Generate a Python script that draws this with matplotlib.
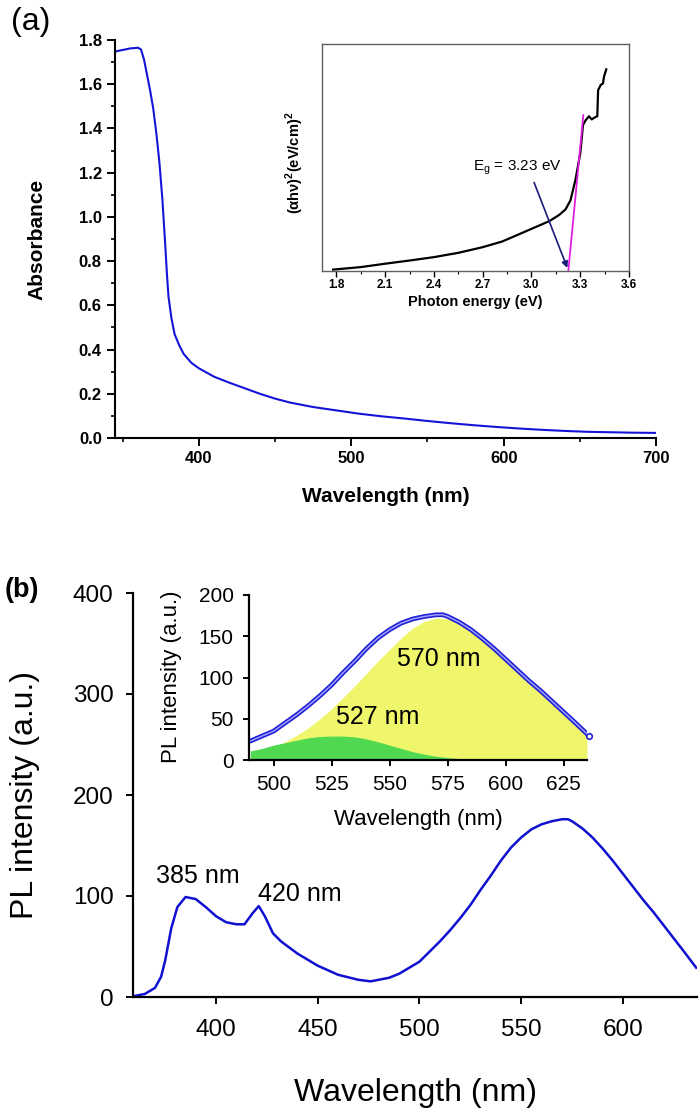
import matplotlib
matplotlib.use("Agg")
import matplotlib.pyplot as plt
from matplotlib.ticker import MultipleLocator

plt.rcParams['font.family'] = ['Liberation Sans', 'DejaVu Sans']
plt.rcParams['mathtext.fontset'] = 'custom'
plt.rcParams['mathtext.rm'] = 'Liberation Sans'
plt.rcParams['mathtext.bf'] = 'Liberation Sans:bold'

# (a) absorbance spectrum
abs_wl = [345, 350, 355, 360, 362, 364, 366, 368, 370, 372, 374, 376, 377, 378, 379, 380,
          382, 384, 387, 390, 395, 400, 410, 420, 430, 440, 450, 460, 475, 490, 505, 520,
          535, 550, 565, 580, 595, 610, 625, 640, 655, 670, 685, 700]
abs_val = [1.748, 1.755, 1.762, 1.765, 1.757, 1.71, 1.64, 1.57, 1.49, 1.38, 1.25, 1.08, 0.97,
           0.86, 0.74, 0.64, 0.54, 0.47, 0.42, 0.38, 0.34, 0.315, 0.277, 0.25, 0.225, 0.20,
           0.178, 0.16, 0.14, 0.125, 0.11, 0.098, 0.088, 0.077, 0.067, 0.058, 0.05, 0.043,
           0.037, 0.032, 0.028, 0.026, 0.024, 0.023]

# (a) inset: Tauc plot (arbitrary units)
tauc_e = [1.78, 1.95, 2.10, 2.25, 2.40, 2.55, 2.70, 2.82, 2.93, 3.02, 3.11, 3.17, 3.21, 3.24,
          3.27, 3.30, 3.317, 3.334, 3.354, 3.37, 3.39, 3.405, 3.41, 3.426, 3.44, 3.446, 3.46]
tauc_y = [0.004, 0.015, 0.03, 0.044, 0.059, 0.078, 0.103, 0.128, 0.162, 0.19, 0.218, 0.245,
          0.27, 0.31, 0.398, 0.516, 0.642, 0.664, 0.681, 0.667, 0.676, 0.681, 0.796, 0.819,
          0.826, 0.855, 0.888]
fit_e = [3.227, 3.319]
fit_y = [0.0, 0.686]
eg = 3.23

# (b) PL spectrum
pl_wl = [360, 365, 370, 373, 375, 378, 381, 385, 390, 395, 400, 405, 410, 414, 418, 421, 424,
         428, 432, 440, 450, 460, 470, 476, 485, 490, 495, 500, 505, 510, 515, 520, 525, 530,
         535, 540, 545, 550, 555, 560, 565, 570, 573, 575, 580, 585, 590, 595, 600, 605, 610,
         615, 620, 625, 630, 636]
pl_int = [1, 3, 9, 20, 36, 68, 89, 99, 97, 89, 80, 74, 72, 72, 83, 90, 80, 63, 55, 43, 31, 22,
          17, 15.5, 19, 23, 29, 35, 45, 55, 66, 78, 91, 106, 120, 135, 148, 158, 166, 171, 174,
          176, 176, 174, 167, 158, 147, 135, 122, 109, 96, 84, 71, 58, 45, 29]

# (b) inset: fitted components
comp_wl = [490, 495, 500, 505, 510, 515, 520, 525, 530, 535, 540, 545, 550, 555, 560, 565,
           570, 575, 580, 585, 590, 595, 600, 605, 610, 615, 620, 625, 630, 635]
comp_527 = [11, 14, 18, 21, 24, 27, 28.5, 29, 29, 28, 25.5, 22, 18, 14, 10, 7, 4.5, 3, 1.8, 1,
            0.5, 0.2, 0, 0, 0, 0, 0, 0, 0, 0]
comp_570 = [9, 12, 16, 22, 30, 39, 50, 62, 76, 90, 105, 120, 134, 148, 160, 168, 172, 171, 166,
            157, 146, 134, 121, 108, 95, 83, 70, 57, 44, 30]

W, H = 700, 1115
fig = plt.figure(figsize=(W / 100, H / 100), dpi=100)


def box(l, t, r, b):
    return [l / W, 1 - b / H, (r - l) / W, (b - t) / H]


def ftext(x, y, s, **kw):
    fig.text(x / W, 1 - y / H, s, ha='center', va='center', **kw)


# ---------- panel (a) ----------
ax1 = fig.add_axes(box(115, 40, 656, 438))
ax1.plot(abs_wl, abs_val, color='#1414d8', lw=1.5)
ax1.set_xlim(344.9, 700)
ax1.set_ylim(0, 1.8)
ax1.spines['top'].set_visible(False)
ax1.spines['right'].set_visible(False)
for s in ['left', 'bottom']:
    ax1.spines[s].set_linewidth(1.5)
ax1.xaxis.set_major_locator(MultipleLocator(100))
ax1.xaxis.set_minor_locator(MultipleLocator(50))
ax1.yaxis.set_major_locator(MultipleLocator(0.2))
ax1.yaxis.set_minor_locator(MultipleLocator(0.1))
ax1.tick_params(which='major', direction='out', length=6, width=1.4, labelsize=12, pad=3.5)
ax1.tick_params(which='minor', direction='out', length=3, width=1.2)
ax1.yaxis.set_major_formatter(plt.FuncFormatter(lambda v, p: f'{v:.1f}'))
for lab in ax1.get_xticklabels() + ax1.get_yticklabels():
    lab.set_fontweight('bold')
ftext(37, 239, 'Absorbance', rotation=90, fontsize=15, fontweight='bold')
ftext(386, 497, 'Wavelength (nm)', fontsize=15, fontweight='bold')
ftext(31, 22, '(a)', fontsize=23)

# inset (a)
ax2 = fig.add_axes(box(321.7, 44, 629, 270.5))
ax2.plot(tauc_e, tauc_y, color='black', lw=1.6)
ax2.plot(fit_e, fit_y, color='#e020e0', lw=1.3)
ax2.annotate('', xy=(eg - 0.003, 0.0), xytext=(3.01, 0.40),
             arrowprops=dict(arrowstyle='-|>', color='#1a1a78', lw=1.2, mutation_scale=9))
ax2.text(2.91, 0.455, r'E$_\mathrm{g}$ = 3.23 eV', fontsize=11, ha='center', va='center')
ax2.set_xlim(1.71, 3.6)
ax2.set_ylim(0, 1)
for s in ax2.spines.values():
    s.set_color('#606060')
    s.set_linewidth(1.0)
ax2.xaxis.set_major_locator(MultipleLocator(0.3))
ax2.xaxis.set_minor_locator(MultipleLocator(0.15))
ax2.tick_params(axis='x', which='major', direction='out', length=4, width=1, labelsize=8.5, pad=2)
ax2.tick_params(axis='x', which='minor', direction='out', length=2.5, width=0.8)
ax2.set_yticks([])
ax2.xaxis.set_major_formatter(plt.FuncFormatter(lambda v, p: f'{v:.1f}'))
for lab in ax2.get_xticklabels():
    lab.set_fontweight('bold')
ftext(475, 302, 'Photon energy (eV)', fontsize=10.5, fontweight='bold')
ftext(295, 163, r'(αhν)$^\mathbf{2}$(eV/cm)$^\mathbf{2}$', rotation=90, fontsize=10.5,
      fontweight='bold')

# ---------- panel (b) ----------
ax3 = fig.add_axes(box(133, 593, 697, 997))
ax3.plot(pl_wl, pl_int, color='#1010d0', lw=1.8)
ax3.set_xlim(359.2, 636.4)
ax3.set_ylim(0, 400)
ax3.spines['top'].set_visible(False)
ax3.spines['right'].set_visible(False)
for s in ['left', 'bottom']:
    ax3.spines[s].set_linewidth(1.6)
ax3.set_xticks([400, 450, 500, 550, 600])
ax3.set_yticks([0, 100, 200, 300, 400])
ax3.tick_params(axis='x', direction='out', length=5, width=1.4, labelsize=17.5, pad=10.5)
ax3.tick_params(axis='y', direction='out', length=5, width=1.4, labelsize=17.5, pad=9)
ax3.text(391, 120, '385 nm', fontsize=18, ha='center', va='center')
ax3.text(441, 102, '420 nm', fontsize=18, ha='center', va='center')
ftext(415, 1093, 'Wavelength (nm)', fontsize=23)
ftext(25, 795, 'PL intensity (a.u.)', rotation=90, fontsize=23)
ftext(22, 590, '(b)', fontsize=19.5, fontweight='bold')

# inset (b)
ins_wl = [w for w in pl_wl if w >= 490]
ins_int = [v for w, v in zip(pl_wl, pl_int) if w >= 490]
ax4 = fig.add_axes(box(249, 595, 587, 760))
ax4.fill_between(comp_wl, comp_570, color='#eff66c', lw=0)
ax4.fill_between(comp_wl, comp_527, color='#50d850', lw=0)
ax4.plot(ins_wl, ins_int, color='#2020d8', lw=3.4, solid_capstyle='round')
ax4.plot(ins_wl, ins_int, color='#a8a8ff', lw=1.0)
ax4.plot(ins_wl[-1], ins_int[-1], 'o', ms=4, mfc='white', mec='#2020d8', mew=1.2, clip_on=False)
ax4.text(571, 123, '570 nm', fontsize=18, ha='center', va='center')
ax4.text(545, 52, '527 nm', fontsize=18, ha='center', va='center')
ax4.set_xlim(489.4, 635)
ax4.set_ylim(0, 200)
ax4.patch.set_alpha(0)
ax4.spines['top'].set_visible(False)
ax4.spines['right'].set_visible(False)
for s in ['left', 'bottom']:
    ax4.spines[s].set_linewidth(1.6)
ax4.set_xticks([500, 525, 550, 575, 600, 625])
ax4.set_yticks([0, 50, 100, 150, 200])
ax4.tick_params(direction='out', length=4, width=1.4, labelsize=15, pad=7)
ftext(418, 819, 'Wavelength (nm)', fontsize=16)
ftext(172, 677, 'PL intensity (a.u.)', rotation=90, fontsize=16)

fig.savefig('out.png', dpi=100)
